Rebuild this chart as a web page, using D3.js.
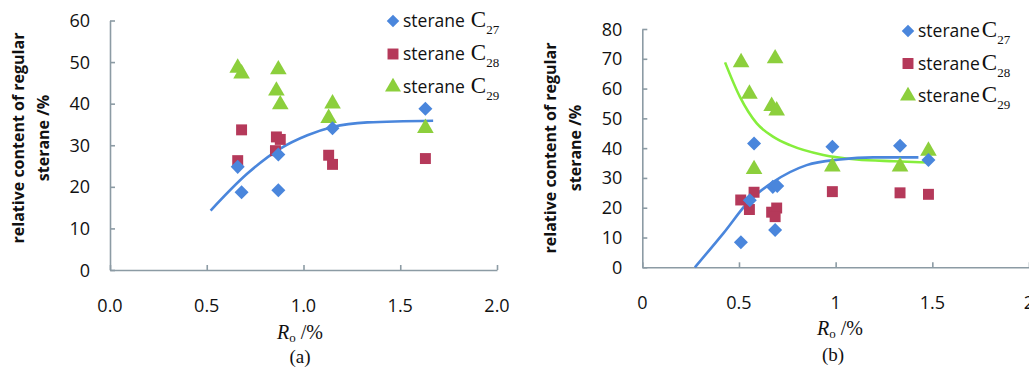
<!DOCTYPE html>
<html>
<head>
<meta charset="utf-8">
<script src="https://cdn.jsdelivr.net/npm/d3@7"></script>
<style>
  body { margin: 0; background: #fff; }
  .tick-label { font-family: "Open Sans", sans-serif; font-size: 18px; fill: #111; }
  .y-title { font-family: "Open Sans", sans-serif; font-weight: bold; font-size: 16px; fill: #111; }
  .legend-text { font-family: "Open Sans", sans-serif; font-size: 17.5px; fill: #111; }
  .serif { font-family: "Liberation Serif", "Times New Roman", serif; fill: #111; }
</style>
</head>
<body>
<div class="vis-holder"></div>
<script>
// panel (a) data: [Ro, value]
var a_c27 = [[0.66, 24.8], [0.68, 18.7], [0.87, 19.2], [0.87, 27.8], [1.15, 34.1], [1.63, 38.8]];
var a_c28 = [[0.66, 26.3], [0.68, 33.7], [0.86, 32.0], [0.88, 31.4], [0.855, 28.7], [1.13, 27.6], [1.15, 25.4], [1.63, 26.8]];
var a_c29 = [[0.66, 48.6], [0.68, 47.2], [0.87, 48.2], [0.86, 43.1], [0.88, 39.8], [1.13, 36.5], [1.15, 40.0], [1.63, 34.1]];
// trend line
var a_trend27 = [[0.52, 14.3], [0.71, 23.2], [0.88, 29.2], [1.02, 32.4], [1.15, 34.4], [1.33, 35.5], [1.67, 35.9]];

// panel (b) data
var b_c27 = [[0.51, 8.4], [0.556, 22.5], [0.578, 41.6], [0.675, 27.0], [0.698, 27.3], [0.687, 12.5], [0.983, 40.5], [1.333, 40.8], [1.48, 36.0]];
var b_c28 = [[0.509, 22.6], [0.578, 25.2], [0.554, 19.4], [0.669, 18.5], [0.695, 19.9], [0.687, 17.0], [0.983, 25.4], [1.333, 25.0], [1.48, 24.5]];
var b_c29 = [[0.511, 68.8], [0.687, 70.1], [0.554, 58.2], [0.669, 54.1], [0.695, 52.6], [0.578, 32.9], [0.983, 33.8], [1.333, 33.8], [1.48, 39.1]];
var b_trend27 = [[0.272, 0], [0.419, 11.4], [0.557, 22.6], [0.678, 28.7], [0.85, 34.3], [1.023, 36.2], [1.195, 36.9], [1.428, 36.9]];
var b_trend29 = [[0.428, 68.8], [0.505, 57.2], [0.592, 48.3], [0.678, 43.8], [0.764, 41.0], [0.936, 37.7], [1.109, 36.2], [1.30, 35.6], [1.476, 35.2]];

var a_xticks = ["0.0", "0.5", "1.0", "1.5", "2.0"];
var b_xticks = ["0", "0.5", "1", "1.5", "2"];
var a_yticks = [0, 10, 20, 30, 40, 50, 60];
var b_yticks = [0, 10, 20, 30, 40, 50, 60, 70, 80];
var legendSubs = ["27", "28", "29"];

var blue = "#4a86dc", red = "#b5395a", green = "#8ccf3c", axisColor = "#8c9ba4";

var width = 1029, height = 367;

var svg = d3.select(".vis-holder")
			.append("svg")
			.attr("width", width)
			.attr("height", height);

function drawPanel(p) {
	var g = svg.append("g");

	// scales
	var xScale = d3.scaleLinear().domain([0, 2]).range([p.x0, p.x1]);
	var yScale = d3.scaleLinear().domain([0, p.ymax]).range([p.y0, p.y1]);

	// axes: ticks pointing inwards, labels drawn separately
	var xAxis = g.append("g")
				 .attr("transform", "translate(0," + p.y0 + ")")
				 .call(d3.axisBottom(xScale).tickValues([0, 0.5, 1, 1.5, 2]).tickSizeInner(-5).tickSizeOuter(0).tickFormat(""));
	var yAxis = g.append("g")
				 .attr("transform", "translate(" + p.x0 + ",0)")
				 .call(d3.axisLeft(yScale).tickValues(p.yticks).tickSizeInner(-5).tickSizeOuter(0).tickFormat(""));
	g.selectAll(".domain, .tick line").attr("stroke", axisColor).attr("stroke-width", 1.6);

	// x tick labels
	g.selectAll(".xlab")
	 .data(p.xticks)
	 .enter()
	 .append("text")
	 .attr("class", "tick-label")
	 .attr("text-anchor", "middle")
	 .attr("x", function(d, i) { return xScale(i * 0.5); })
	 .attr("y", p.y0 + 42)
	 .text(function(d) { return d; });

	// y tick labels
	g.selectAll(".ylab")
	 .data(p.yticks)
	 .enter()
	 .append("text")
	 .attr("class", "tick-label")
	 .attr("text-anchor", "end")
	 .attr("x", p.x0 - 20)
	 .attr("y", function(d) { return yScale(d) + 6.5; })
	 .text(function(d) { return d; });

	// trend lines
	var line = d3.line()
				 .x(function(d) { return xScale(d[0]); })
				 .y(function(d) { return yScale(d[1]); })
				 .curve(d3.curveMonotoneX);

	p.trends.forEach(function(t) {
		g.append("path")
		 .attr("d", line(t.data))
		 .attr("fill", "none")
		 .attr("stroke", t.color)
		 .attr("stroke-width", 2.6);
	});

	// markers
	var diamond = d3.symbol().type(d3.symbolDiamond2).size(125);
	var square = d3.symbol().type(d3.symbolSquare).size(120);
	var triangle = d3.symbol().type(d3.symbolTriangle).size(120);

	function markers(data, sym, color) {
		g.append("g")
		 .selectAll("path")
		 .data(data)
		 .enter()
		 .append("path")
		 .attr("d", sym)
		 .attr("fill", color)
		 .attr("transform", function(d) { return "translate(" + xScale(d[0]) + "," + yScale(d[1]) + ")"; });
	}
	markers(p.c28, square, red);
	markers(p.c29, triangle, green);
	markers(p.c27, diamond, blue);

	// legend
	var lsyms = [d3.symbol().type(d3.symbolDiamond2).size(100), d3.symbol().type(d3.symbolSquare).size(120), d3.symbol().type(d3.symbolTriangle).size(110)];
	var cols = [blue, red, green];
	legendSubs.forEach(function(s, i) {
		var ly = p.legY + i * p.legStep;
		g.append("path")
		 .attr("d", lsyms[i])
		 .attr("fill", cols[i])
		 .attr("transform", "translate(" + p.legX + "," + ly + ")");
		var t = g.append("text")
				 .attr("class", "legend-text")
				 .attr("x", p.legX + 10)
				 .attr("y", ly + 6);
		t.append("tspan").text("sterane");
		t.append("tspan").attr("class", "serif").attr("dx", p.legGap).style("font-size", "23px").text("C");
		t.append("tspan").attr("class", "serif").attr("dy", 7).style("font-size", "13px").text(s);
	});

	// y title
	var yt = g.append("text")
			  .attr("class", "y-title")
			  .attr("text-anchor", "middle")
			  .attr("transform", "translate(" + p.ytX + "," + p.ytY + ")rotate(-90)");
	yt.append("tspan").attr("x", 0).attr("y", 0).text("relative content of regular");
	yt.append("tspan").attr("x", 0).attr("y", 25).text("sterane /%");

	// x title
	var xt = g.append("text")
			  .attr("class", "serif")
			  .attr("text-anchor", "middle")
			  .attr("x", p.xtX)
			  .attr("y", p.xtY)
			  .style("font-size", "20px");
	xt.append("tspan").style("font-style", "italic").text("R");
	xt.append("tspan").attr("dy", 3).style("font-size", "13px").text("o");
	xt.append("tspan").attr("dy", -3).text(" /%");

	g.append("text")
	 .attr("class", "serif")
	 .attr("text-anchor", "middle")
	 .attr("x", p.capX)
	 .attr("y", p.capY)
	 .style("font-size", "19px")
	 .text(p.caption);
}

drawPanel({
	x0: 110, x1: 497, y0: 270, y1: 20.5, ymax: 60,
	xticks: a_xticks, yticks: a_yticks,
	c27: a_c27, c28: a_c28, c29: a_c29,
	trends: [{ data: a_trend27, color: blue }],
	legX: 393, legY: 21, legStep: 33, legGap: 6,
	ytX: 24, ytY: 138, xtX: 300, xtY: 339, capX: 300, capY: 363, caption: "(a)"
});

drawPanel({
	x0: 642.3, x1: 1029, y0: 267.3, y1: 29, ymax: 80,
	xticks: b_xticks, yticks: b_yticks,
	c27: b_c27, c28: b_c28, c29: b_c29,
	trends: [{ data: b_trend29, color: "#86ee3c" }, { data: b_trend27, color: blue }],
	legX: 908, legY: 31, legStep: 32.5, legGap: 2,
	ytX: 556, ytY: 148, xtX: 840, xtY: 335, capX: 833, capY: 361, caption: "(b)"
});
</script>
</body>
</html>
